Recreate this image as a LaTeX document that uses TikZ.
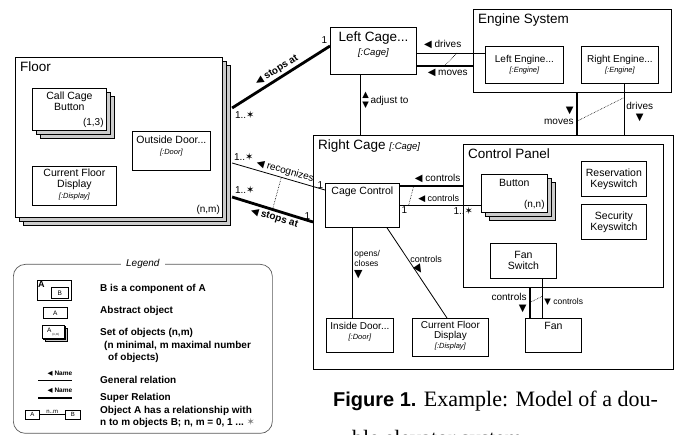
\documentclass[tikz,border=0pt]{standalone}
\usepackage{fontspec}
\setmainfont{Liberation Serif}
\setsansfont{Liberation Sans}
\newfontfamily\symf{DejaVu Sans}
\usetikzlibrary{positioning,calc,shadows}

\newcommand\fs[2]{\fontsize{#1}{#2}\selectfont}
\newcommand\tril{{\symf ◀}}
\newcommand\trid{{\symf ▼}}
\newcommand\triud{\raisebox{-3.5pt}{\symf\fs{8.5}{7}\shortstack{▲\\▼}}}
\newcommand\mstar{{\symf ✶}}
\newcommand\role[1]{{\itshape\fs{7.5}{8.5}#1}}

\tikzset{
  box/.style={draw, line width=0.8pt, fill=white, inner sep=0pt, anchor=north west},
  cont/.style={box, line width=1.1pt},
  sz/.style 2 args={minimum width=#1pt, minimum height=#2pt},
  stack/.style={general shadow={shadow xshift=2*#1, shadow yshift=-2*#1, fill=gray!40, draw=black, line width=0.6pt},
                general shadow={shadow xshift=#1, shadow yshift=-#1, fill=gray!40, draw=black, line width=0.6pt}},
  stack/.default=4pt,
  otxt/.style={font=\sffamily\fs{10.5}{11}, align=center, inner sep=0pt, anchor=north, yshift=-4pt},
  ttl/.style={font=\sffamily\fs{13.5}{15}, inner sep=0pt, anchor=north west, xshift=5pt, yshift=-5pt},
  num/.style={font=\sffamily\fs{10}{11}, inner sep=0pt, anchor=south east, xshift=-3pt, yshift=3pt},
  rel/.style={line width=0.8pt},
  super/.style={line width=2.8pt},
  sub/.style={densely dotted, line width=0.6pt},
  lbl/.style={font=\sffamily\fs{10}{11}, inner sep=2pt},
  lblb/.style={lbl, font=\sffamily\bfseries\fs{10}{11}},
  mult/.style={font=\sffamily\fs{10}{11}, inner sep=1.5pt},
  lgtxt/.style={font=\sffamily\bfseries\fs{10}{12}, inner sep=0pt, anchor=base west},
  lgname/.style={font=\sffamily\bfseries\fs{6.5}{7}, inner sep=1pt},
}

\begin{document}
\begin{tikzpicture}[x=1pt, y=-1pt]
\useasboundingbox (0,0) rectangle (678,435);

% Floor
\node[cont, stack, sz={207}{160}, label={[ttl]north west:Floor}, label={[num]south east:{(n,m)}}] (floor) at (15,57) {};
\node[box, stack, sz={74}{42}, label={[otxt]north:Call Cage\\Button}, label={[num]south east:{(1,3)}}] (callbtn) at (32,88) {};
\node[box, sz={78}{39}, label={[otxt, yshift=-1pt]north:Outside Door...\\\role{[:Door]}}] (outdoor) at (132,131) {};
\node[box, sz={84}{39}, label={[otxt, yshift=1pt]north:Current Floor\\Display\\\role{[:Display]}}] (floordisp) at (32,166) {};

% Left cage and engines
\node[box, sz={86}{47}, label={[otxt, font=\sffamily\fs{13.5}{14}, yshift=-1pt]north:Left Cage...\\{\itshape\fs{9.5}{11}[:Cage]}}] (leftcage) at (330,27) {};
\node[cont, sz={198}{83}, label={[ttl]north west:Engine System}] (engines) at (473,9) {};
\node[box, sz={78}{37}, label={[otxt, font=\sffamily\fs{10}{10}, yshift=-5pt]north:Left Engine...\\\role{[:Engine]}}] (leftengine) at (485,46) {};
\node[box, sz={77}{37}, label={[otxt, font=\sffamily\fs{10}{10}, yshift=-5pt]north:Right Engine...\\\role{[:Engine]}}] (rightengine) at (581,46) {};

% Right cage
\node[cont, sz={360}{234}, label={[ttl]north west:Right Cage {\itshape\fs{9.5}{11}[:Cage]}}] (rightcage) at (313,135) {};
\node[cont, sz={200}{143}, label={[ttl]north west:Control Panel}] (panel) at (463,144) {};
\node[box, sz={74}{44}, label={[otxt]north:Cage Control}] (cagectrl) at (325,183) {};
\node[box, stack, sz={66}{38}, label={[otxt, yshift=-1pt]north:Button}, label={[num]south east:{(n,n)}}] (button) at (481,174) {};
\node[box, sz={65}{35}, font=\sffamily\fs{10.5}{11}, align=center] (reskey) at (581,161) {Reservation\\Keyswitch};
\node[box, sz={65}{35}, font=\sffamily\fs{10.5}{11}, align=center] (seckey) at (581,204) {Security\\Keyswitch};
\node[box, sz={66}{35}, font=\sffamily\fs{10.5}{11}, align=center] (fanswitch) at (490,243) {Fan\\Switch};
\node[box, sz={67}{34}, label={[otxt, font=\sffamily\fs{10}{10}]north:Inside Door...\\\role{[:Door]}}] (indoor) at (326,318) {};
\node[box, sz={76}{38}, label={[otxt, font=\sffamily\fs{10}{10}, yshift=1pt]north:Current Floor\\Display\\\role{[:Display]}}] (rightdisp) at (412,318) {};
\node[box, sz={56}{34}, label={[otxt]north:Fan}] (fan) at (525,318) {};

% Floor -- cages
\draw[super] ($(floor.north east)+(9,51)$) -- ($(leftcage.north west)+(0,19)$)
  node[lblb, sloped, above, pos=.5] (lstop1) {\tril\ stops at}
  node[mult, pos=0, below right] (m1) {1..\mstar}
  node[mult, pos=1, above left] (m2) {1};
\draw[rel] ($(floor.north east)+(9,106)$) -- ($(cagectrl.north west)+(0,7)$)
  node[lbl, sloped, above, pos=.55] (lrec) {\tril\ recognizes}
  node[mult, pos=0, above right] (m3) {1..\mstar}
  node[mult, pos=1, above left] (m4) {1}
  coordinate[pos=.53] (rec);
\draw[super] ($(floor.north east)+(9,140)$) -- ($(rightcage.north west)+(0,87)$)
  node[lblb, sloped, below, pos=.55] (lstop2) {\tril\ stops at}
  node[mult, pos=0, above right] (m5) {1..\mstar}
  node[mult, pos=1, above left] (m6) {1}
  coordinate[pos=.5] (stp);
\draw[sub] (stp) -- (rec);

% Left cage -- engines
\coordinate (dv0) at ($(leftcage.north east)+(0,26)$);
\coordinate (mv0) at ($(leftcage.north east)+(0,39)$);
\draw[rel] (dv0) -- (dv0 -| leftengine.west) node[lbl, above, pos=.38, yshift=2pt] (ldrv) {\tril\ drives} coordinate[pos=.59] (dv1);
\draw[super] (mv0) -- (mv0 -| engines.west) node[lbl, below, pos=.55] (lmov) {\tril\ moves} coordinate[pos=.49] (mv1);
\draw[sub] (mv1) -- (dv1);

% Left cage -- right cage
\coordinate (adj) at ($(leftcage.south west)+(30,0)$);
\draw[rel] (adj) -- (adj |- rightcage.north) node[lbl, right, pos=.42] (ladj) {\triud\,adjust to};

% Engines -- right cage
\coordinate (mvv) at ($(engines.south west)+(104,0)$);
\coordinate (drv) at ($(rightengine.south west)+(43,0)$);
\draw[super] (mvv) -- (mvv |- rightcage.north) node[lbl, left, pos=.55, align=right] (lmov2) {\trid\\moves} coordinate[pos=.67] (mv2);
\draw[rel] (drv) -- (drv |- rightcage.north) node[lbl, right, pos=.55, align=center] (ldrv2) {drives\\\trid} coordinate[pos=.27] (dv2);
\draw[sub] (mv2) -- (dv2);

% Cage control -- panel
\coordinate (ct0) at ($(cagectrl.north east)+(0,3)$);
\coordinate (cb0) at ($(cagectrl.north east)+(0,22)$);
\draw[super] (ct0) -- (ct0 -| panel.west) node[lbl, above, pos=.6] (lctl1) {\tril\ controls} coordinate[pos=.22] (ct1);
\draw[rel] (cb0) -- (cb0 -| button.west)
  node[lbl, above, pos=.48, font=\sffamily\fs{9}{10}] (lctl2) {\tril\ controls}
  node[mult, pos=0, below right] (m7) {1}
  node[mult, pos=1, below left, xshift=-6pt] (m8) {1..\mstar}
  coordinate[pos=.11] (cb1);
\draw[sub] (cb1) -- (ct1);

% Cage control -- door and display
\coordinate (oc0) at ($(cagectrl.south west)+(27,0)$);
\draw[rel] (oc0) -- (oc0 |- indoor.north) node[lbl, right, pos=.34, align=left, font=\sffamily\fs{8.5}{9.5}] (lopn) {opens/\\closes};
\node[inner sep=0pt, font=\fs{11}{11}, anchor=north west] (lopnt) at ($(lopn.south west)+(2,1)$) {\trid};
\draw[rel] ($(cagectrl.south west)+(62,0)$) -- ($(rightdisp.north west)+(35,0)$) node[lbl, right, pos=.35, font=\sffamily\fs{9}{10}] (lcd) {controls};
\node[inner sep=0pt, font=\fs{11}{11}, rotate=124] (lcdt) at ($(lcd.south west)+(11,5)$) {\tril};

% Fan
\coordinate (fc0) at ($(panel.south west)+(67,0)$);
\coordinate (fs0) at ($(fanswitch.south west)+(52,0)$);
\draw[super] (fc0) -- (fc0 |- fan.north) node[lbl, left, pos=.5, align=right] (lfan1) {controls\\\trid\hspace{1pt}} coordinate[pos=.48] (fc1);
\draw[rel] (fs0) -- (fs0 |- fan.north) node[lbl, right, pos=.58, font=\sffamily\fs{8.5}{9}] (lfan2) {\trid\ controls} coordinate[pos=.45] (fs1);
\draw[sub] (fc1) -- (fs1);

% Legend
\node[draw=gray!70!black, line width=0.7pt, rounded corners=12pt, inner sep=0pt, anchor=north west, sz={259}{169}] (legend) at (13,264) {};
\node[fill=white, font=\sffamily\itshape\fs{10}{11}, inner xsep=5pt, inner ysep=1pt] (legtitle) at (legend.north) {Legend};
\node[box, line width=0.6pt, sz={34}{20}, label={[font=\sffamily\bfseries\fs{9}{9}, inner sep=1pt, anchor=north west]north west:A}] (lga) at (37,280) {};
\node[box, line width=0.6pt, sz={17}{11}, font=\sffamily\fs{6.5}{7}] (lgb) at (51,287) {B};
\node[box, line width=0.6pt, sz={24}{11}, font=\sffamily\fs{6.5}{7}] (lgabs) at (43,307) {A};
\node[box, line width=0.5pt, stack=1.5pt, sz={22}{13}, font=\sffamily\fs{6.5}{7}] (lgset) at (42,325) {A\,\raisebox{-3pt}{\fs{3}{3}(n,m)}};
\node[lgname] (lgn1) at (60,374) {\tril\ Name};
\draw[rel, line width=0.7pt] ($(lgn1.south)+(-22,3)$) -- ++(34,0);
\node[lgname] (lgn2) at (60,391) {\tril\ Name};
\draw[super, line width=2.5pt] ($(lgn2.south)+(-22,3)$) -- ++(34,0);
\node[box, line width=0.6pt, sz={14}{9}, font=\sffamily\fs{6}{6}] (lgra) at (25,410) {A};
\node[box, line width=0.6pt, sz={15}{9}, font=\sffamily\fs{6}{6}] (lgrb) at (65,410) {B};
\draw[rel, line width=0.6pt] (lgra) -- node[above, font=\sffamily\fs{6}{6}, inner sep=1pt] (lgnm) {n..m} (lgrb);
\foreach \y/\t [count=\i] in {292/{B is a component of A}, 314/{Abstract object},
    336/{Set of objects (n,m)}, 349/{\hspace*{4pt}(n minimal, m maximal number},
    361/{\hspace*{8pt}of objects)}, 384/{General relation}, 401/{Super Relation},
    414/{Object A has a relationship with}, 426/{n to m objects B; n, m = 0, 1 ...\ {\color{gray}\mstar}}}
  \node[lgtxt] (lgt\i) at (100,\y) {\t};

% Caption
\node[anchor=base west, inner sep=0pt, font=\fs{22}{26}] (cap1) at (333,407) {{\sffamily\bfseries\fs{20}{24}Figure 1.} Example: Model of a dou-};
\node[anchor=base west, inner sep=0pt, font=\fs{22}{26}] (cap2) at (352,446) {ble elevator system.};
\end{tikzpicture}
\end{document}
